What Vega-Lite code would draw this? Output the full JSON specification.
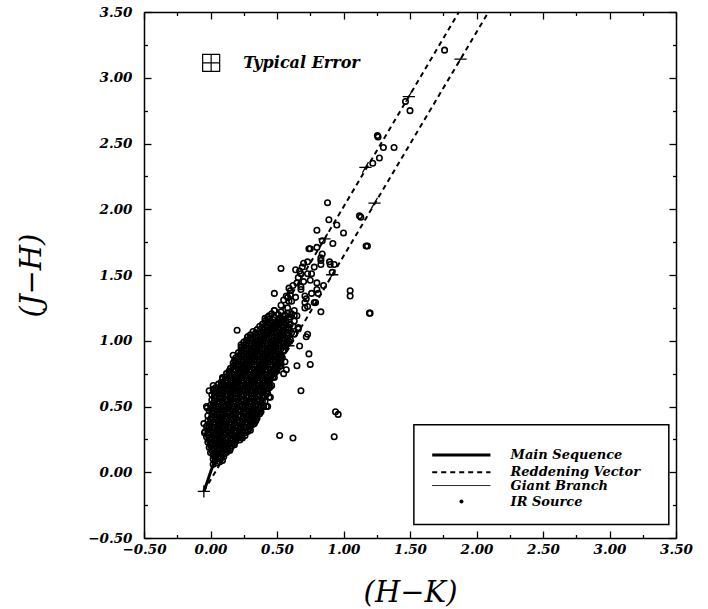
{
"$schema": "https://vega.github.io/schema/vega-lite/v6.json",
"width": 532, "height": 526,
"autosize": {"type": "none"},
"padding": {"left": 144, "top": 12, "right": 32, "bottom": 71},
"background": "white",
"config": {
  "view": {"stroke": null},
  "axis": {"grid": false, "domainColor": "black", "domainWidth": 1.5, "tickColor": "black", "tickWidth": 1.3,
    "labelFont": "DejaVu Serif", "labelFontStyle": "italic", "labelFontWeight": "bold", "labelFontSize": 13.5, "labelColor": "black",
    "labelFlush": false, "labelOverlap": false,
    "titleFont": "DejaVu Serif", "titleFontStyle": "italic", "titleFontWeight": "normal", "titleFontSize": 29, "titleColor": "black"}
},
"datasets": {
  "pts": [
    {"x":0.02,"y":0.06},{"x":0.05,"y":0.07},
    {"x":0.02,"y":0.10},{"x":0.06,"y":0.11},{"x":0.09,"y":0.09},
    {"x":0.00,"y":0.15},{"x":0.04,"y":0.13},{"x":0.08,"y":0.14},{"x":0.12,"y":0.15},
    {"x":-0.01,"y":0.19},{"x":0.03,"y":0.18},{"x":0.07,"y":0.17},{"x":0.11,"y":0.19},{"x":0.15,"y":0.18},
    {"x":-0.02,"y":0.23},{"x":0.02,"y":0.22},{"x":0.06,"y":0.21},{"x":0.10,"y":0.23},{"x":0.14,"y":0.22},{"x":0.18,"y":0.21},
    {"x":-0.03,"y":0.27},{"x":0.01,"y":0.25},{"x":0.05,"y":0.26},{"x":0.09,"y":0.27},{"x":0.13,"y":0.26},{"x":0.17,"y":0.25},{"x":0.21,"y":0.27},{"x":0.24,"y":0.26},
    {"x":-0.04,"y":0.31},{"x":0.00,"y":0.30},{"x":0.04,"y":0.29},{"x":0.08,"y":0.31},{"x":0.12,"y":0.30},{"x":0.16,"y":0.29},{"x":0.20,"y":0.31},{"x":0.24,"y":0.30},{"x":0.28,"y":0.31},
    {"x":-0.03,"y":0.35},{"x":0.01,"y":0.34},{"x":0.05,"y":0.33},{"x":0.09,"y":0.35},{"x":0.13,"y":0.34},{"x":0.17,"y":0.33},{"x":0.21,"y":0.35},{"x":0.25,"y":0.34},{"x":0.30,"y":0.35},
    {"x":-0.02,"y":0.39},{"x":0.02,"y":0.38},{"x":0.06,"y":0.37},{"x":0.10,"y":0.39},{"x":0.14,"y":0.38},{"x":0.18,"y":0.37},{"x":0.22,"y":0.39},{"x":0.26,"y":0.38},{"x":0.30,"y":0.37},{"x":0.34,"y":0.39},
    {"x":-0.02,"y":0.43},{"x":0.03,"y":0.42},{"x":0.07,"y":0.41},{"x":0.11,"y":0.43},{"x":0.15,"y":0.42},{"x":0.19,"y":0.41},{"x":0.23,"y":0.43},{"x":0.27,"y":0.42},{"x":0.31,"y":0.41},{"x":0.35,"y":0.43},
    {"x":-0.01,"y":0.47},{"x":0.03,"y":0.46},{"x":0.07,"y":0.45},{"x":0.11,"y":0.47},{"x":0.15,"y":0.46},{"x":0.19,"y":0.45},{"x":0.23,"y":0.47},{"x":0.27,"y":0.46},{"x":0.31,"y":0.45},{"x":0.35,"y":0.47},{"x":0.38,"y":0.46},
    {"x":0.00,"y":0.51},{"x":0.04,"y":0.50},{"x":0.08,"y":0.49},{"x":0.12,"y":0.51},{"x":0.16,"y":0.50},{"x":0.20,"y":0.49},{"x":0.24,"y":0.51},{"x":0.28,"y":0.50},{"x":0.32,"y":0.49},{"x":0.36,"y":0.51},{"x":0.40,"y":0.50},
    {"x":0.01,"y":0.55},{"x":0.05,"y":0.54},{"x":0.09,"y":0.53},{"x":0.13,"y":0.55},{"x":0.17,"y":0.54},{"x":0.21,"y":0.53},{"x":0.25,"y":0.55},{"x":0.29,"y":0.54},{"x":0.33,"y":0.53},{"x":0.37,"y":0.55},{"x":0.41,"y":0.54},
    {"x":0.01,"y":0.59},{"x":0.05,"y":0.58},{"x":0.09,"y":0.57},{"x":0.13,"y":0.59},{"x":0.17,"y":0.58},{"x":0.21,"y":0.57},{"x":0.25,"y":0.59},{"x":0.29,"y":0.58},{"x":0.33,"y":0.57},{"x":0.37,"y":0.59},{"x":0.41,"y":0.58},{"x":0.43,"y":0.60},
    {"x":0.02,"y":0.63},{"x":0.06,"y":0.62},{"x":0.10,"y":0.61},{"x":0.14,"y":0.63},{"x":0.18,"y":0.62},{"x":0.22,"y":0.61},{"x":0.26,"y":0.63},{"x":0.30,"y":0.62},{"x":0.34,"y":0.61},{"x":0.38,"y":0.63},{"x":0.42,"y":0.62},
    {"x":0.06,"y":0.67},{"x":0.10,"y":0.66},{"x":0.14,"y":0.65},{"x":0.18,"y":0.67},{"x":0.22,"y":0.66},{"x":0.26,"y":0.65},{"x":0.30,"y":0.67},{"x":0.34,"y":0.66},{"x":0.38,"y":0.65},{"x":0.42,"y":0.67},{"x":0.46,"y":0.66},
    {"x":0.09,"y":0.71},{"x":0.13,"y":0.70},{"x":0.17,"y":0.69},{"x":0.21,"y":0.71},{"x":0.25,"y":0.70},{"x":0.29,"y":0.69},{"x":0.33,"y":0.71},{"x":0.37,"y":0.70},{"x":0.41,"y":0.69},{"x":0.45,"y":0.71},
    {"x":0.12,"y":0.75},{"x":0.16,"y":0.74},{"x":0.20,"y":0.73},{"x":0.24,"y":0.75},{"x":0.28,"y":0.74},{"x":0.32,"y":0.73},{"x":0.36,"y":0.75},{"x":0.40,"y":0.74},{"x":0.44,"y":0.73},{"x":0.48,"y":0.75},
    {"x":0.15,"y":0.79},{"x":0.19,"y":0.78},{"x":0.23,"y":0.77},{"x":0.27,"y":0.79},{"x":0.31,"y":0.78},{"x":0.35,"y":0.77},{"x":0.39,"y":0.79},{"x":0.43,"y":0.78},{"x":0.47,"y":0.77},{"x":0.50,"y":0.79},
    {"x":0.17,"y":0.83},{"x":0.21,"y":0.82},{"x":0.25,"y":0.81},{"x":0.29,"y":0.83},{"x":0.33,"y":0.82},{"x":0.37,"y":0.81},{"x":0.41,"y":0.83},{"x":0.45,"y":0.82},{"x":0.49,"y":0.81},{"x":0.53,"y":0.83},
    {"x":0.19,"y":0.87},{"x":0.23,"y":0.86},{"x":0.27,"y":0.85},{"x":0.31,"y":0.87},{"x":0.35,"y":0.86},{"x":0.39,"y":0.85},{"x":0.43,"y":0.87},{"x":0.47,"y":0.86},{"x":0.51,"y":0.85},{"x":0.54,"y":0.87},
    {"x":0.21,"y":0.91},{"x":0.25,"y":0.90},{"x":0.29,"y":0.89},{"x":0.33,"y":0.91},{"x":0.37,"y":0.90},{"x":0.41,"y":0.89},{"x":0.45,"y":0.91},{"x":0.49,"y":0.90},{"x":0.53,"y":0.89},
    {"x":0.23,"y":0.95},{"x":0.27,"y":0.94},{"x":0.31,"y":0.93},{"x":0.35,"y":0.95},{"x":0.39,"y":0.94},{"x":0.43,"y":0.93},{"x":0.47,"y":0.95},{"x":0.51,"y":0.94},{"x":0.55,"y":0.93},
    {"x":0.25,"y":0.99},{"x":0.29,"y":0.98},{"x":0.33,"y":0.97},{"x":0.37,"y":0.99},{"x":0.41,"y":0.98},{"x":0.45,"y":0.97},{"x":0.49,"y":0.99},{"x":0.53,"y":0.98},{"x":0.57,"y":0.97},
    {"x":0.28,"y":1.03},{"x":0.32,"y":1.02},{"x":0.36,"y":1.01},{"x":0.40,"y":1.03},{"x":0.44,"y":1.02},{"x":0.48,"y":1.01},{"x":0.52,"y":1.03},{"x":0.56,"y":1.02},{"x":0.60,"y":1.01},
    {"x":0.32,"y":1.07},{"x":0.36,"y":1.06},{"x":0.40,"y":1.05},{"x":0.44,"y":1.07},{"x":0.48,"y":1.06},{"x":0.52,"y":1.05},{"x":0.56,"y":1.07},{"x":0.61,"y":1.06},
    {"x":0.37,"y":1.11},{"x":0.41,"y":1.10},{"x":0.45,"y":1.09},{"x":0.49,"y":1.11},{"x":0.53,"y":1.10},{"x":0.57,"y":1.09},{"x":0.62,"y":1.11},
    {"x":0.41,"y":1.15},{"x":0.45,"y":1.14},{"x":0.49,"y":1.13},{"x":0.53,"y":1.15},{"x":0.57,"y":1.14},{"x":0.63,"y":1.15},
    {"x":0.44,"y":1.19},{"x":0.48,"y":1.18},{"x":0.52,"y":1.17},{"x":0.56,"y":1.19},{"x":0.60,"y":1.18},{"x":0.65,"y":1.19},
    {"x":0.48,"y":1.23},{"x":0.53,"y":1.22},{"x":0.58,"y":1.21},{"x":0.63,"y":1.23},
    {"x":0.035,"y":0.085},{"x":0.07,"y":0.08},
    {"x":0.02,"y":0.125},{"x":0.06,"y":0.12},{"x":0.10,"y":0.12},
    {"x":0.01,"y":0.165},{"x":0.05,"y":0.16},{"x":0.09,"y":0.155},{"x":0.13,"y":0.165},
    {"x":0.00,"y":0.205},{"x":0.04,"y":0.20},{"x":0.08,"y":0.195},{"x":0.12,"y":0.205},{"x":0.16,"y":0.20},
    {"x":-0.01,"y":0.245},{"x":0.03,"y":0.24},{"x":0.07,"y":0.235},{"x":0.11,"y":0.245},{"x":0.15,"y":0.24},{"x":0.19,"y":0.235},{"x":0.22,"y":0.245},
    {"x":-0.02,"y":0.285},{"x":0.02,"y":0.28},{"x":0.06,"y":0.275},{"x":0.10,"y":0.285},{"x":0.14,"y":0.28},{"x":0.18,"y":0.275},{"x":0.22,"y":0.285},{"x":0.26,"y":0.28},
    {"x":-0.02,"y":0.325},{"x":0.02,"y":0.32},{"x":0.06,"y":0.315},{"x":0.10,"y":0.325},{"x":0.14,"y":0.32},{"x":0.18,"y":0.315},{"x":0.22,"y":0.325},{"x":0.26,"y":0.32},{"x":0.29,"y":0.33},
    {"x":-0.01,"y":0.365},{"x":0.03,"y":0.36},{"x":0.07,"y":0.355},{"x":0.11,"y":0.365},{"x":0.15,"y":0.36},{"x":0.19,"y":0.355},{"x":0.23,"y":0.365},{"x":0.27,"y":0.36},{"x":0.32,"y":0.365},
    {"x":0.00,"y":0.405},{"x":0.04,"y":0.40},{"x":0.08,"y":0.395},{"x":0.12,"y":0.405},{"x":0.16,"y":0.40},{"x":0.20,"y":0.395},{"x":0.24,"y":0.405},{"x":0.28,"y":0.40},{"x":0.32,"y":0.395},{"x":0.35,"y":0.41},
    {"x":0.01,"y":0.445},{"x":0.05,"y":0.44},{"x":0.09,"y":0.435},{"x":0.13,"y":0.445},{"x":0.17,"y":0.44},{"x":0.21,"y":0.435},{"x":0.25,"y":0.445},{"x":0.29,"y":0.44},{"x":0.33,"y":0.435},{"x":0.37,"y":0.445},
    {"x":0.01,"y":0.485},{"x":0.05,"y":0.48},{"x":0.09,"y":0.475},{"x":0.13,"y":0.485},{"x":0.17,"y":0.48},{"x":0.21,"y":0.475},{"x":0.25,"y":0.485},{"x":0.29,"y":0.48},{"x":0.33,"y":0.475},{"x":0.37,"y":0.485},
    {"x":0.02,"y":0.525},{"x":0.06,"y":0.52},{"x":0.10,"y":0.515},{"x":0.14,"y":0.525},{"x":0.18,"y":0.52},{"x":0.22,"y":0.515},{"x":0.26,"y":0.525},{"x":0.30,"y":0.52},{"x":0.34,"y":0.515},{"x":0.38,"y":0.525},
    {"x":0.03,"y":0.565},{"x":0.07,"y":0.56},{"x":0.11,"y":0.555},{"x":0.15,"y":0.565},{"x":0.19,"y":0.56},{"x":0.23,"y":0.555},{"x":0.27,"y":0.565},{"x":0.31,"y":0.56},{"x":0.35,"y":0.555},{"x":0.39,"y":0.565},
    {"x":0.03,"y":0.605},{"x":0.07,"y":0.60},{"x":0.11,"y":0.595},{"x":0.15,"y":0.605},{"x":0.19,"y":0.60},{"x":0.23,"y":0.595},{"x":0.27,"y":0.605},{"x":0.31,"y":0.60},{"x":0.35,"y":0.595},{"x":0.39,"y":0.605},{"x":0.42,"y":0.60},
    {"x":0.04,"y":0.645},{"x":0.08,"y":0.64},{"x":0.12,"y":0.635},{"x":0.16,"y":0.645},{"x":0.20,"y":0.64},{"x":0.24,"y":0.635},{"x":0.28,"y":0.645},{"x":0.32,"y":0.64},{"x":0.36,"y":0.635},{"x":0.40,"y":0.645},{"x":0.44,"y":0.64},
    {"x":0.08,"y":0.685},{"x":0.12,"y":0.68},{"x":0.16,"y":0.675},{"x":0.20,"y":0.685},{"x":0.24,"y":0.68},{"x":0.28,"y":0.675},{"x":0.32,"y":0.685},{"x":0.36,"y":0.68},{"x":0.40,"y":0.675},{"x":0.44,"y":0.685},
    {"x":0.11,"y":0.725},{"x":0.15,"y":0.72},{"x":0.19,"y":0.715},{"x":0.23,"y":0.725},{"x":0.27,"y":0.72},{"x":0.31,"y":0.715},{"x":0.35,"y":0.725},{"x":0.39,"y":0.72},{"x":0.43,"y":0.715},{"x":0.47,"y":0.725},
    {"x":0.14,"y":0.765},{"x":0.18,"y":0.76},{"x":0.22,"y":0.755},{"x":0.26,"y":0.765},{"x":0.30,"y":0.76},{"x":0.34,"y":0.755},{"x":0.38,"y":0.765},{"x":0.42,"y":0.76},{"x":0.46,"y":0.755},{"x":0.49,"y":0.765},
    {"x":0.17,"y":0.805},{"x":0.21,"y":0.80},{"x":0.25,"y":0.795},{"x":0.29,"y":0.805},{"x":0.33,"y":0.80},{"x":0.37,"y":0.795},{"x":0.41,"y":0.805},{"x":0.45,"y":0.80},{"x":0.49,"y":0.795},{"x":0.52,"y":0.805},
    {"x":0.19,"y":0.845},{"x":0.23,"y":0.84},{"x":0.27,"y":0.835},{"x":0.31,"y":0.845},{"x":0.35,"y":0.84},{"x":0.39,"y":0.835},{"x":0.43,"y":0.845},{"x":0.47,"y":0.84},{"x":0.51,"y":0.835},
    {"x":0.21,"y":0.885},{"x":0.25,"y":0.88},{"x":0.29,"y":0.875},{"x":0.33,"y":0.885},{"x":0.37,"y":0.88},{"x":0.41,"y":0.875},{"x":0.45,"y":0.885},{"x":0.49,"y":0.88},{"x":0.53,"y":0.875},
    {"x":0.23,"y":0.925},{"x":0.27,"y":0.92},{"x":0.31,"y":0.915},{"x":0.35,"y":0.925},{"x":0.39,"y":0.92},{"x":0.43,"y":0.915},{"x":0.47,"y":0.925},{"x":0.51,"y":0.92},
    {"x":0.25,"y":0.965},{"x":0.29,"y":0.96},{"x":0.33,"y":0.955},{"x":0.37,"y":0.965},{"x":0.41,"y":0.96},{"x":0.45,"y":0.955},{"x":0.49,"y":0.965},{"x":0.53,"y":0.96},{"x":0.56,"y":0.955},
    {"x":0.27,"y":1.005},{"x":0.31,"y":1.00},{"x":0.35,"y":0.995},{"x":0.39,"y":1.005},{"x":0.43,"y":1.00},{"x":0.47,"y":0.995},{"x":0.51,"y":1.005},{"x":0.55,"y":1.00},{"x":0.59,"y":0.995},
    {"x":0.30,"y":1.045},{"x":0.34,"y":1.04},{"x":0.38,"y":1.035},{"x":0.42,"y":1.045},{"x":0.46,"y":1.04},{"x":0.50,"y":1.035},{"x":0.54,"y":1.045},{"x":0.58,"y":1.04},
    {"x":0.35,"y":1.085},{"x":0.39,"y":1.08},{"x":0.43,"y":1.075},{"x":0.47,"y":1.085},{"x":0.51,"y":1.08},{"x":0.55,"y":1.075},{"x":0.59,"y":1.085},
    {"x":0.39,"y":1.125},{"x":0.43,"y":1.12},{"x":0.47,"y":1.115},{"x":0.51,"y":1.125},{"x":0.55,"y":1.12},{"x":0.60,"y":1.125},
    {"x":0.43,"y":1.165},{"x":0.47,"y":1.16},{"x":0.51,"y":1.155},{"x":0.55,"y":1.165},{"x":0.59,"y":1.16},
    {"x":0.46,"y":1.205},{"x":0.51,"y":1.20},{"x":0.56,"y":1.195},{"x":0.61,"y":1.205},
    {"x":0.04,"y":0.10},{"x":0.075,"y":0.10},
    {"x":0.02,"y":0.14},{"x":0.06,"y":0.14},{"x":0.10,"y":0.14},
    {"x":0.01,"y":0.18},{"x":0.05,"y":0.18},{"x":0.09,"y":0.18},{"x":0.13,"y":0.18},
    {"x":0.00,"y":0.22},{"x":0.04,"y":0.22},{"x":0.08,"y":0.22},{"x":0.12,"y":0.22},{"x":0.16,"y":0.22},
    {"x":-0.01,"y":0.26},{"x":0.03,"y":0.26},{"x":0.07,"y":0.26},{"x":0.11,"y":0.26},{"x":0.15,"y":0.26},{"x":0.19,"y":0.26},{"x":0.225,"y":0.26},
    {"x":-0.02,"y":0.30},{"x":0.02,"y":0.30},{"x":0.06,"y":0.30},{"x":0.10,"y":0.30},{"x":0.14,"y":0.30},{"x":0.18,"y":0.30},{"x":0.22,"y":0.30},{"x":0.26,"y":0.30},
    {"x":-0.01,"y":0.34},{"x":0.03,"y":0.34},{"x":0.07,"y":0.34},{"x":0.11,"y":0.34},{"x":0.15,"y":0.34},{"x":0.19,"y":0.34},{"x":0.23,"y":0.34},{"x":0.27,"y":0.34},
    {"x":0.00,"y":0.38},{"x":0.04,"y":0.38},{"x":0.08,"y":0.38},{"x":0.12,"y":0.38},{"x":0.16,"y":0.38},{"x":0.20,"y":0.38},{"x":0.24,"y":0.38},{"x":0.28,"y":0.38},{"x":0.32,"y":0.38},
    {"x":0.01,"y":0.42},{"x":0.05,"y":0.42},{"x":0.09,"y":0.42},{"x":0.13,"y":0.42},{"x":0.17,"y":0.42},{"x":0.21,"y":0.42},{"x":0.25,"y":0.42},{"x":0.29,"y":0.42},{"x":0.33,"y":0.42},
    {"x":0.01,"y":0.46},{"x":0.05,"y":0.46},{"x":0.09,"y":0.46},{"x":0.13,"y":0.46},{"x":0.17,"y":0.46},{"x":0.21,"y":0.46},{"x":0.25,"y":0.46},{"x":0.29,"y":0.46},{"x":0.33,"y":0.46},{"x":0.37,"y":0.46},
    {"x":0.02,"y":0.50},{"x":0.06,"y":0.50},{"x":0.10,"y":0.50},{"x":0.14,"y":0.50},{"x":0.18,"y":0.50},{"x":0.22,"y":0.50},{"x":0.26,"y":0.50},{"x":0.30,"y":0.50},{"x":0.34,"y":0.50},{"x":0.38,"y":0.50},
    {"x":0.03,"y":0.54},{"x":0.07,"y":0.54},{"x":0.11,"y":0.54},{"x":0.15,"y":0.54},{"x":0.19,"y":0.54},{"x":0.23,"y":0.54},{"x":0.27,"y":0.54},{"x":0.31,"y":0.54},{"x":0.35,"y":0.54},{"x":0.39,"y":0.54},
    {"x":0.03,"y":0.58},{"x":0.07,"y":0.58},{"x":0.11,"y":0.58},{"x":0.15,"y":0.58},{"x":0.19,"y":0.58},{"x":0.23,"y":0.58},{"x":0.27,"y":0.58},{"x":0.31,"y":0.58},{"x":0.35,"y":0.58},{"x":0.39,"y":0.58},
    {"x":0.04,"y":0.62},{"x":0.08,"y":0.62},{"x":0.12,"y":0.62},{"x":0.16,"y":0.62},{"x":0.20,"y":0.62},{"x":0.24,"y":0.62},{"x":0.28,"y":0.62},{"x":0.32,"y":0.62},{"x":0.36,"y":0.62},{"x":0.40,"y":0.62},
    {"x":0.08,"y":0.66},{"x":0.12,"y":0.66},{"x":0.16,"y":0.66},{"x":0.20,"y":0.66},{"x":0.24,"y":0.66},{"x":0.28,"y":0.66},{"x":0.32,"y":0.66},{"x":0.36,"y":0.66},{"x":0.40,"y":0.66},{"x":0.44,"y":0.66},
    {"x":0.11,"y":0.70},{"x":0.15,"y":0.70},{"x":0.19,"y":0.70},{"x":0.23,"y":0.70},{"x":0.27,"y":0.70},{"x":0.31,"y":0.70},{"x":0.35,"y":0.70},{"x":0.39,"y":0.70},{"x":0.43,"y":0.70},
    {"x":0.14,"y":0.74},{"x":0.18,"y":0.74},{"x":0.22,"y":0.74},{"x":0.26,"y":0.74},{"x":0.30,"y":0.74},{"x":0.34,"y":0.74},{"x":0.38,"y":0.74},{"x":0.42,"y":0.74},{"x":0.46,"y":0.74},
    {"x":0.17,"y":0.78},{"x":0.21,"y":0.78},{"x":0.25,"y":0.78},{"x":0.29,"y":0.78},{"x":0.33,"y":0.78},{"x":0.37,"y":0.78},{"x":0.41,"y":0.78},{"x":0.45,"y":0.78},{"x":0.49,"y":0.78},
    {"x":0.19,"y":0.82},{"x":0.23,"y":0.82},{"x":0.27,"y":0.82},{"x":0.31,"y":0.82},{"x":0.35,"y":0.82},{"x":0.39,"y":0.82},{"x":0.43,"y":0.82},{"x":0.47,"y":0.82},{"x":0.51,"y":0.82},
    {"x":0.21,"y":0.86},{"x":0.25,"y":0.86},{"x":0.29,"y":0.86},{"x":0.33,"y":0.86},{"x":0.37,"y":0.86},{"x":0.41,"y":0.86},{"x":0.45,"y":0.86},{"x":0.49,"y":0.86},{"x":0.52,"y":0.86},
    {"x":0.23,"y":0.90},{"x":0.27,"y":0.90},{"x":0.31,"y":0.90},{"x":0.35,"y":0.90},{"x":0.39,"y":0.90},{"x":0.43,"y":0.90},{"x":0.47,"y":0.90},{"x":0.51,"y":0.90},
    {"x":0.25,"y":0.94},{"x":0.29,"y":0.94},{"x":0.33,"y":0.94},{"x":0.37,"y":0.94},{"x":0.41,"y":0.94},{"x":0.45,"y":0.94},{"x":0.49,"y":0.94},{"x":0.53,"y":0.94},
    {"x":0.27,"y":0.98},{"x":0.31,"y":0.98},{"x":0.35,"y":0.98},{"x":0.39,"y":0.98},{"x":0.43,"y":0.98},{"x":0.47,"y":0.98},{"x":0.51,"y":0.98},{"x":0.55,"y":0.98},
    {"x":0.30,"y":1.02},{"x":0.34,"y":1.02},{"x":0.38,"y":1.02},{"x":0.42,"y":1.02},{"x":0.46,"y":1.02},{"x":0.50,"y":1.02},{"x":0.54,"y":1.02},{"x":0.58,"y":1.02},
    {"x":0.34,"y":1.06},{"x":0.38,"y":1.06},{"x":0.42,"y":1.06},{"x":0.46,"y":1.06},{"x":0.50,"y":1.06},{"x":0.54,"y":1.06},{"x":0.58,"y":1.06},
    {"x":0.39,"y":1.10},{"x":0.43,"y":1.10},{"x":0.47,"y":1.10},{"x":0.51,"y":1.10},{"x":0.55,"y":1.10},{"x":0.59,"y":1.10},
    {"x":0.43,"y":1.14},{"x":0.47,"y":1.14},{"x":0.51,"y":1.14},{"x":0.55,"y":1.14},
    {"x":-0.05,"y":0.37},{"x":-0.045,"y":0.30},{"x":-0.01,"y":0.62},{"x":-0.03,"y":0.50},{"x":0.02,"y":0.66},{"x":0.09,"y":0.72},{"x":0.14,"y":0.77},{"x":0.17,"y":0.89},{"x":0.20,"y":1.08},{"x":0.23,"y":0.97},{"x":0.28,"y":1.03},{"x":0.41,"y":1.17},{"x":0.18,"y":0.85},{"x":0.095,"y":0.67},{"x":0.05,"y":0.60},{"x":-0.025,"y":0.49},{"x":0.01,"y":0.23},
    {"x":0.15,"y":0.22},{"x":0.23,"y":0.27},{"x":0.30,"y":0.32},{"x":0.33,"y":0.37},{"x":0.36,"y":0.47},{"x":0.44,"y":0.57},{"x":0.43,"y":0.50},{"x":0.45,"y":0.65},{"x":0.50,"y":0.77},{"x":0.53,"y":0.81},{"x":0.53,"y":0.87},{"x":0.58,"y":0.98},{"x":0.63,"y":1.05},{"x":0.73,"y":1.05},{"x":0.74,"y":0.90},{"x":0.75,"y":0.82},{"x":0.65,"y":0.81},{"x":0.68,"y":0.62},{"x":0.62,"y":0.26},{"x":0.52,"y":0.28},{"x":0.93,"y":0.27},{"x":0.94,"y":0.46},{"x":0.96,"y":0.44},{"x":1.05,"y":1.38},{"x":1.05,"y":1.34},{"x":1.20,"y":1.21},{"x":1.18,"y":1.72},{"x":0.67,"y":0.96},{"x":0.72,"y":1.03},{"x":0.42,"y":0.50},{"x":0.45,"y":0.57},{"x":0.30,"y":0.355},{"x":0.225,"y":0.27},{"x":0.175,"y":0.22},{"x":0.145,"y":0.165},{"x":0.10,"y":0.14},{"x":0.075,"y":0.11},{"x":0.55,"y":0.92},{"x":0.56,"y":0.84},{"x":0.48,"y":0.72},{"x":0.57,"y":0.78},{"x":0.55,"y":0.75},
    {"x":0.71,"y":1.29},{"x":0.73,"y":1.26},{"x":0.66,"y":1.10},{"x":0.83,"y":1.22},{"x":0.79,"y":1.29},{"x":0.80,"y":1.44},{"x":0.76,"y":1.51},{"x":0.78,"y":1.56},{"x":0.73,"y":1.60},{"x":0.70,"y":1.59},{"x":0.64,"y":1.54},{"x":0.74,"y":1.70},{"x":0.80,"y":1.71},{"x":0.84,"y":1.66},{"x":0.83,"y":1.61},{"x":0.83,"y":1.58},{"x":0.90,"y":1.58},{"x":0.93,"y":1.58},{"x":0.915,"y":1.52},{"x":0.85,"y":1.42},{"x":0.57,"y":1.34},{"x":0.60,"y":1.38},{"x":0.59,"y":1.30},{"x":0.65,"y":1.44},{"x":0.68,"y":1.41},{"x":0.71,"y":1.34},
    {"x":0.88,"y":2.05},{"x":1.12,"y":1.95},{"x":0.89,"y":1.92},{"x":0.95,"y":1.88},{"x":0.80,"y":1.84},{"x":1.00,"y":1.82},{"x":0.92,"y":1.74},{"x":0.84,"y":1.76},{"x":0.75,"y":1.70},{"x":0.83,"y":1.63},{"x":0.895,"y":1.60},{"x":0.69,"y":1.56},{"x":0.67,"y":1.53},{"x":0.68,"y":1.51},{"x":0.73,"y":1.51},{"x":0.75,"y":1.46},{"x":0.68,"y":1.39},{"x":0.80,"y":1.39},{"x":0.81,"y":1.36},{"x":0.48,"y":1.36},{"x":0.53,"y":1.55},{"x":0.72,"y":1.32},{"x":0.78,"y":1.29},{"x":0.71,"y":1.25},{"x":0.66,"y":1.09},
    {"x":0.59,"y":1.40},{"x":0.60,"y":1.35},{"x":0.58,"y":1.33},{"x":0.61,"y":1.30},{"x":0.66,"y":1.48},{"x":0.48,"y":1.23},{"x":0.43,"y":1.18},{"x":0.58,"y":1.25},{"x":0.63,"y":1.19},{"x":0.53,"y":1.27},{"x":0.55,"y":1.31},{"x":0.64,"y":1.33},{"x":0.62,"y":1.42},{"x":0.70,"y":1.45},{"x":0.76,"y":1.36},
    {"x":1.76,"y":3.21},{"x":1.466,"y":2.82},{"x":1.50,"y":2.75},{"x":1.26,"y":2.55},{"x":1.255,"y":2.56},{"x":1.30,"y":2.47},{"x":1.38,"y":2.47},{"x":1.27,"y":2.39},{"x":1.22,"y":2.35},{"x":1.13,"y":1.94},{"x":1.17,"y":1.72},{"x":1.195,"y":1.21}
  ],
  "lines": [
    {"series":"Reddening Vector","seg":"upper","x":0.20,"y":0.652},{"series":"Reddening Vector","seg":"upper","x":1.868,"y":3.5},
    {"series":"Reddening Vector","seg":"lower","x":-0.05,"y":-0.145},{"series":"Reddening Vector","seg":"lower","x":2.09,"y":3.5},
    {"series":"Main Sequence","seg":"ms","x":-0.05,"y":-0.145},{"series":"Main Sequence","seg":"ms","x":-0.02,"y":-0.06},{"series":"Main Sequence","seg":"ms","x":0.0,"y":0.0},{"series":"Main Sequence","seg":"ms","x":0.025,"y":0.07},{"series":"Main Sequence","seg":"ms","x":0.05,"y":0.2},{"series":"Main Sequence","seg":"ms","x":0.08,"y":0.36},{"series":"Main Sequence","seg":"ms","x":0.11,"y":0.48},{"series":"Main Sequence","seg":"ms","x":0.15,"y":0.58},{"series":"Main Sequence","seg":"ms","x":0.19,"y":0.63},{"series":"Main Sequence","seg":"ms","x":0.24,"y":0.65},{"series":"Main Sequence","seg":"ms","x":0.30,"y":0.66},
    {"series":"Giant Branch","seg":"gb","x":0.07,"y":0.37},{"series":"Giant Branch","seg":"gb","x":0.10,"y":0.47},{"series":"Giant Branch","seg":"gb","x":0.13,"y":0.56},{"series":"Giant Branch","seg":"gb","x":0.17,"y":0.68},{"series":"Giant Branch","seg":"gb","x":0.20,"y":0.78},{"series":"Giant Branch","seg":"gb","x":0.24,"y":0.86},{"series":"Giant Branch","seg":"gb","x":0.28,"y":0.92},{"series":"Giant Branch","seg":"gb","x":0.33,"y":0.97}
  ],
  "crosses": [
    {"x":0.586,"y":0.962},{"x":0.915,"y":1.502},{"x":1.233,"y":2.047},{"x":1.88,"y":3.142},
    {"x":0.857,"y":1.774},{"x":1.165,"y":2.318},{"x":1.491,"y":2.857}
  ],
  "start": [{"x":-0.05,"y":-0.145}],
  "err": [{"x":0.005,"y":3.113,"label":"Typical Error"}],
  "legendbox": [{"x":1.529,"x2":3.446,"y":0.362,"y2":-0.397}],
  "legend": [
    {"series":"Main Sequence","x":1.667,"x2":2.105,"y":0.132,"tx":2.256},
    {"series":"Reddening Vector","x":1.667,"x2":2.105,"y":0.0,"tx":2.256},
    {"series":"Giant Branch","x":1.667,"x2":2.105,"y":-0.101,"tx":2.256}
  ],
  "irs": [{"series":"IR Source","x":1.887,"y":-0.223,"tx":2.256}]
},
"layer": [
  {
    "data": {"name": "lines"},
    "mark": {"type": "line", "color": "black"},
    "encoding": {
      "x": {"field": "x", "type": "quantitative", "scale": {"domain": [-0.5, 3.5], "nice": false, "zero": false},
        "axis": {"orient": "bottom", "title": "(H\u2212K)", "titlePadding": 23, "labelPadding": 4, "format": ".2f", "ticks": false,
          "values": [-0.5,0,0.5,1,1.5,2,2.5,3,3.5]}},
      "y": {"field": "y", "type": "quantitative", "scale": {"domain": [-0.5, 3.5], "nice": false, "zero": false},
        "axis": {"orient": "left", "title": "(J\u2212H)", "titlePadding": 41, "labelPadding": 12, "format": ".2f", "ticks": false,
          "values": [-0.5,0,0.5,1,1.5,2,2.5,3,3.5]}},
      "detail": {"field": "seg"},
      "strokeDash": {"field": "series", "type": "nominal", "scale": {"domain": ["Main Sequence", "Reddening Vector", "Giant Branch"], "range": [[1, 0], [5, 4], [1, 0]]}, "legend": null},
      "strokeWidth": {"field": "series", "type": "nominal", "scale": {"domain": ["Main Sequence", "Reddening Vector", "Giant Branch"], "range": [3, 1, 1.3]}, "legend": null}
    }
  },
  {
    "data": {"name": "pts"},
    "mark": {"type": "point", "shape": "circle", "filled": false, "stroke": "black", "strokeWidth": 1.6, "size": 30, "opacity": 1},
    "encoding": {
      "x": {"field": "x", "type": "quantitative", "scale": {"domain": [-0.5, 3.5], "nice": false, "zero": false},
        "axis": {"orient": "top", "offset": -526, "labels": false, "title": null, "domain": false, "tickSize": 7, "zindex": 1,
          "values": [-0.5,0,0.5,1,1.5,2,2.5,3,3.5]}},
      "y": {"field": "y", "type": "quantitative", "scale": {"domain": [-0.5, 3.5], "nice": false, "zero": false},
        "axis": {"orient": "right", "offset": -532, "labels": false, "title": null, "domain": false, "tickSize": 7, "zindex": 1,
          "values": [-0.5,0,0.5,1,1.5,2,2.5,3,3.5]}}
    }
  },
  {
    "data": {"name": "crosses"},
    "mark": {"type": "point", "shape": "M-1,0L1,0M-0.5,0.866L0.5,-0.866", "filled": false, "stroke": "black", "strokeWidth": 1.3, "size": 150, "opacity": 1},
    "encoding": {
      "x": {"field": "x", "type": "quantitative", "scale": {"domain": [-0.5, 3.5], "nice": false, "zero": false},
        "axis": {"orient": "bottom", "offset": -526, "labels": false, "title": null, "domain": true, "tickSize": 7, "zindex": 1,
          "values": [-0.5,0,0.5,1,1.5,2,2.5,3,3.5]}},
      "y": {"field": "y", "type": "quantitative", "scale": {"domain": [-0.5, 3.5], "nice": false, "zero": false},
        "axis": {"orient": "left", "offset": -532, "labels": false, "title": null, "domain": true, "tickSize": 7, "zindex": 1,
          "values": [-0.5,0,0.5,1,1.5,2,2.5,3,3.5]}}
    }
  },
  {
    "data": {"name": "start"},
    "mark": {"type": "point", "shape": "M-1,0L1,0M0,-1L0,1", "filled": false, "stroke": "black", "strokeWidth": 1.3, "size": 150, "opacity": 1},
    "encoding": {
      "x": {"field": "x", "type": "quantitative", "scale": {"domain": [-0.5, 3.5], "nice": false, "zero": false},
        "axis": {"orient": "top", "offset": -526, "labels": false, "title": null, "domain": false, "tickSize": 3.5, "zindex": 1,
          "values": [-0.25,0.25,0.75,1.25,1.75,2.25,2.75,3.25]}},
      "y": {"field": "y", "type": "quantitative", "scale": {"domain": [-0.5, 3.5], "nice": false, "zero": false},
        "axis": {"orient": "right", "offset": -532, "labels": false, "title": null, "domain": false, "tickSize": 3.5, "zindex": 1,
          "values": [-0.25,0.25,0.75,1.25,1.75,2.25,2.75,3.25]}}
    }
  },
  {
    "data": {"name": "err"},
    "mark": {"type": "point", "shape": "M-1,-1L1,-1L1,1L-1,1ZM0,-1L0,1M-1,0L1,0", "filled": false, "stroke": "black", "strokeWidth": 1.2, "size": 290, "opacity": 1},
    "encoding": {
      "x": {"field": "x", "type": "quantitative", "scale": {"domain": [-0.5, 3.5], "nice": false, "zero": false},
        "axis": {"orient": "bottom", "offset": -526, "labels": false, "title": null, "domain": false, "tickSize": 3.5, "zindex": 1,
          "values": [-0.25,0.25,0.75,1.25,1.75,2.25,2.75,3.25]}},
      "y": {"field": "y", "type": "quantitative", "scale": {"domain": [-0.5, 3.5], "nice": false, "zero": false},
        "axis": {"orient": "left", "offset": -532, "labels": false, "title": null, "domain": false, "tickSize": 3.5, "zindex": 1,
          "values": [-0.25,0.25,0.75,1.25,1.75,2.25,2.75,3.25]}}
    }
  },
  {
    "data": {"name": "err"},
    "mark": {"type": "text", "align": "left", "baseline": "middle", "dx": 32, "font": "DejaVu Serif", "fontStyle": "italic", "fontWeight": "bold", "fontSize": 16, "color": "black"},
    "encoding": {
      "x": {"field": "x", "type": "quantitative", "scale": {"domain": [-0.5, 3.5], "nice": false, "zero": false}, "axis": null},
      "y": {"field": "y", "type": "quantitative", "scale": {"domain": [-0.5, 3.5], "nice": false, "zero": false}, "axis": null},
      "text": {"field": "label"}
    }
  },
  {
    "data": {"name": "legendbox"},
    "mark": {"type": "rect", "fill": "white", "stroke": "black", "strokeWidth": 1.5},
    "encoding": {
      "x": {"field": "x", "type": "quantitative", "scale": {"domain": [-0.5, 3.5], "nice": false, "zero": false}, "axis": null},
      "x2": {"field": "x2"},
      "y": {"field": "y", "type": "quantitative", "scale": {"domain": [-0.5, 3.5], "nice": false, "zero": false}, "axis": null},
      "y2": {"field": "y2"}
    }
  },
  {
    "data": {"name": "legend"},
    "mark": {"type": "rule", "color": "black"},
    "encoding": {
      "x": {"field": "x", "type": "quantitative", "scale": {"domain": [-0.5, 3.5], "nice": false, "zero": false}, "axis": null},
      "x2": {"field": "x2"},
      "y": {"field": "y", "type": "quantitative", "scale": {"domain": [-0.5, 3.5], "nice": false, "zero": false}, "axis": null},
      "strokeDash": {"field": "series", "type": "nominal", "legend": null},
      "strokeWidth": {"field": "series", "type": "nominal", "legend": null}
    }
  },
  {
    "data": {"name": "irs"},
    "mark": {"type": "point", "shape": "circle", "filled": true, "color": "black", "size": 16, "opacity": 1},
    "encoding": {
      "x": {"field": "x", "type": "quantitative", "scale": {"domain": [-0.5, 3.5], "nice": false, "zero": false}, "axis": null},
      "y": {"field": "y", "type": "quantitative", "scale": {"domain": [-0.5, 3.5], "nice": false, "zero": false}, "axis": null}
    }
  },
  {
    "data": {"name": "legend"},
    "mark": {"type": "text", "align": "left", "baseline": "middle", "font": "DejaVu Serif", "fontStyle": "italic", "fontWeight": "bold", "fontSize": 13, "color": "black"},
    "encoding": {
      "x": {"field": "tx", "type": "quantitative", "scale": {"domain": [-0.5, 3.5], "nice": false, "zero": false}, "axis": null},
      "y": {"field": "y", "type": "quantitative", "scale": {"domain": [-0.5, 3.5], "nice": false, "zero": false}, "axis": null},
      "text": {"field": "series"}
    }
  },
  {
    "data": {"name": "irs"},
    "mark": {"type": "text", "align": "left", "baseline": "middle", "font": "DejaVu Serif", "fontStyle": "italic", "fontWeight": "bold", "fontSize": 13, "color": "black"},
    "encoding": {
      "x": {"field": "tx", "type": "quantitative", "scale": {"domain": [-0.5, 3.5], "nice": false, "zero": false}, "axis": null},
      "y": {"field": "y", "type": "quantitative", "scale": {"domain": [-0.5, 3.5], "nice": false, "zero": false}, "axis": null},
      "text": {"field": "series"}
    }
  }
],
"resolve": {"axis": {"x": "independent", "y": "independent"}}
}
